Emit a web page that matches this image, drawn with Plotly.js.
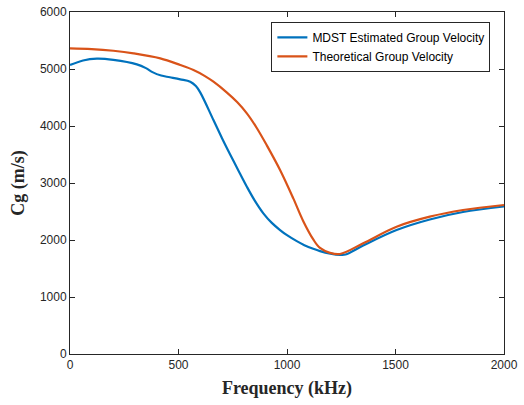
<!DOCTYPE html>
<html><head><meta charset="utf-8">
<script src="https://cdn.plot.ly/plotly-3.0.1.min.js"></script>
<style>html,body{margin:0;padding:0;background:#fff}#chart{width:524px;height:405px}</style>
</head><body><div id="chart"></div>
<script>
const mdstFreq = [0, 60, 124, 200, 308, 350, 380, 420, 460, 508, 554, 580, 600, 661, 700, 738, 780, 815, 850, 891, 930, 968, 1000, 1045, 1080, 1121, 1152, 1200, 1244, 1270, 1351, 1505, 1658, 1811, 2000];
const mdstCg   = [5070, 5150, 5181, 5160, 5082, 5015, 4945, 4885, 4855, 4819, 4777, 4700, 4590, 4105, 3790, 3500, 3190, 2935, 2700, 2468, 2300, 2175, 2085, 1980, 1910, 1845, 1805, 1762, 1740, 1745, 1903, 2175, 2360, 2491, 2588];
const theoFreq = [0, 100, 200, 293, 416, 508, 569, 620, 661, 722, 770, 815, 860, 907, 968, 1029, 1075, 1121, 1152, 1198, 1244, 1351, 1505, 1658, 1811, 2000];
const theoCg   = [5363, 5350, 5320, 5275, 5187, 5070, 4982, 4880, 4777, 4590, 4420, 4222, 3970, 3660, 3228, 2730, 2330, 2010, 1860, 1775, 1754, 1942, 2233, 2409, 2526, 2614];
const seriesNames = ['MDST Estimated Group Velocity', 'Theoretical Group Velocity'];
const xTicks = [0, 500, 1000, 1500, 2000];
const yTicks = [0, 1000, 2000, 3000, 4000, 5000, 6000];

const axisCommon = {
  showgrid: false, zeroline: false, showline: true, linecolor: '#262626', linewidth: 1,
  mirror: 'ticks', ticks: 'inside', ticklen: 5, tickcolor: '#262626', tickwidth: 1,
  tickfont: {family: 'Liberation Sans, Arial, sans-serif', size: 12, color: '#262626'}
};
const titleFont = {family: 'Liberation Serif, Times New Roman, serif', size: 18, color: '#262626', weight: 'bold'};
const traces = [
  {x: mdstFreq, y: mdstCg, name: seriesNames[0], mode: 'lines', line: {color: '#0072BD', width: 2.2, shape: 'spline', smoothing: 1}},
  {x: theoFreq, y: theoCg, name: seriesNames[1], mode: 'lines', line: {color: '#D95319', width: 2.2, shape: 'spline', smoothing: 1}}
];
const layout = {
  width: 524, height: 405,
  margin: {l: 70, r: 20, t: 12, b: 51},
  paper_bgcolor: '#fff', plot_bgcolor: '#fff',
  showlegend: true,
  legend: {x: 0.464, y: 0.971, xanchor: 'left', yanchor: 'top', bgcolor: '#fff',
           bordercolor: '#262626', borderwidth: 1, tracegroupgap: 0,
           font: {family: 'Liberation Sans, Arial, sans-serif', size: 12, color: '#000'}},
  xaxis: Object.assign({}, axisCommon, {range: [0, 2000], tickvals: xTicks, ticktext: xTicks.map(String),
    title: {text: 'Frequency (kHz)', standoff: 9, font: titleFont}}),
  yaxis: Object.assign({}, axisCommon, {range: [0, 6000], tickvals: yTicks, ticktext: yTicks.map(String),
    title: {text: 'Cg (m/s)', standoff: 10, font: titleFont}})
};
Plotly.newPlot('chart', traces, layout, {staticPlot: true, displayModeBar: false});
</script></body></html>
